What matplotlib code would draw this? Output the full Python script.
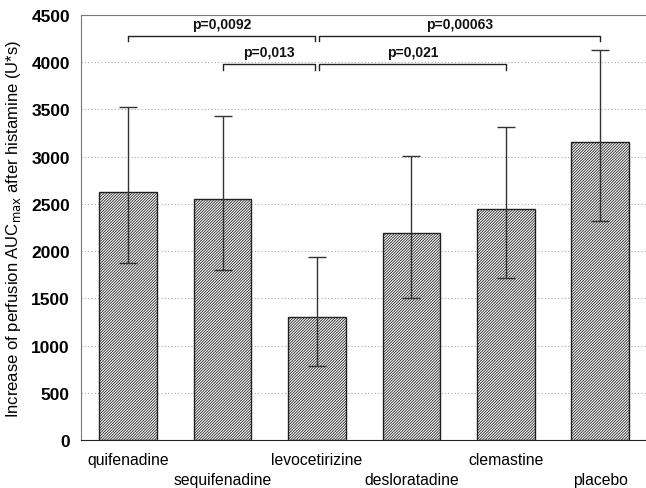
import matplotlib
matplotlib.use("Agg")
import matplotlib.pyplot as plt
import numpy as np

categories = ["quifenadine", "sequifenadine", "levocetirizine", "desloratadine", "clemastine", "placebo"]
means = [2630, 2550, 1300, 2190, 2450, 3160]
err_upper = [3530, 3430, 1940, 3010, 3310, 4130]
err_lower = [1870, 1800, 780, 1500, 1720, 2320]
yticks = [0, 500, 1000, 1500, 2000, 2500, 3000, 3500, 4000, 4500]

# brackets: (start index, end index, level value, label)
brackets = [
    (0, 2, 4280, "p=0,0092"),
    (2, 5, 4280, "p=0,00063"),
    (1, 2, 3980, "p=0,013"),
    (2, 4, 3980, "p=0,021"),
]

plt.rcParams['font.family'] = ['Liberation Sans', 'DejaVu Sans']
plt.rcParams['hatch.linewidth'] = 0.6
plt.rcParams['hatch.color'] = '#606060'

fig = plt.figure(figsize=(6.46, 4.89), dpi=100)
ax = fig.add_axes([81/646, 1-441/489, (647.5-81)/646, (441-16)/489])

x = np.arange(len(categories))
ax.bar(x, means, width=0.61, color='white', edgecolor='#222222', linewidth=1.0,
       hatch='/' * 12, zorder=2)
yerr = [np.array(means) - np.array(err_lower), np.array(err_upper) - np.array(means)]
ax.errorbar(x, means, yerr=yerr, fmt='none', ecolor='#333333', elinewidth=1.0,
            capsize=6.5, capthick=1.0, zorder=3)

ax.set_xlim(-0.5, 5.5)
ax.set_ylim(0, 4500)
ax.set_yticks(yticks)
ax.set_yticklabels([str(t) for t in yticks], fontsize=12.5, fontweight='bold')
ax.yaxis.grid(True, linestyle=(0, (1, 2)), color='#aaaaaa', linewidth=0.8, zorder=0)
ax.set_axisbelow(True)
ax.tick_params(length=0, pad=8)
ax.set_xticks(x)
ax.set_xticklabels([])
for i, c in enumerate(categories):
    yoff = -0.045 if i % 2 == 0 else -0.092
    ax.text(i, yoff, c, transform=ax.get_xaxis_transform(), ha='center', va='center',
            fontsize=11.3)

ax.set_ylabel("Increase of perfusion AUC$_{\\mathrm{max}}$ after histamine (U*s)", fontsize=12,
              labelpad=6)

for s in ['left', 'top', 'right']:
    ax.spines[s].set_color('#777777')
ax.spines['bottom'].set_color('#222222')

for (a, b, lev, lab) in brackets:
    xa = a + 0.02 if a == 2 else a
    xb = b - 0.02 if b == 2 else b
    ax.plot([xa, xa, xb, xb], [lev - 60, lev, lev, lev - 60], color='#222222', linewidth=1.0,
            zorder=4)
    ax.text((xa + xb) / 2, lev + 50, lab, ha='center', va='bottom', fontsize=10,
            fontweight='bold', color='#111111')

fig.savefig("out.png", dpi=100)
